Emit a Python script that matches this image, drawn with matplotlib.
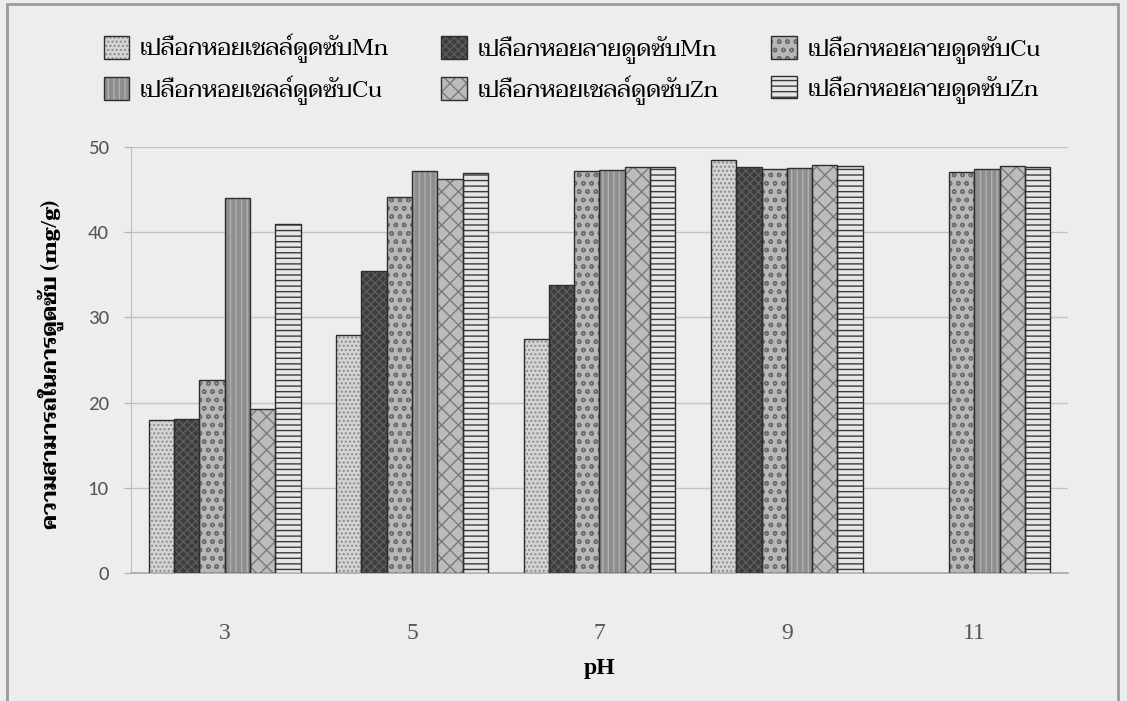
import numpy as np
import matplotlib
matplotlib.use("Agg")
import matplotlib.pyplot as plt
from matplotlib.patches import Rectangle

# data (adsorption capacity, mg/g)
ph_labels = ["3", "5", "7", "9", "11"]
mn_shell = [17.9, 27.9, 27.5, 48.5, np.nan]
mn_lai = [18.1, 35.5, 33.8, 47.6, np.nan]
cu_lai = [22.6, 44.1, 47.2, 47.4, 47.1]
cu_shell = [44.0, 47.2, 47.3, 47.5, 47.4]
zn_shell = [19.3, 46.2, 47.6, 47.9, 47.8]
zn_lai = [41.0, 46.9, 47.6, 47.8, 47.7]

series_names = [
    "เปลือกหอยเชลล์ดูดซับMn",
    "เปลือกหอยลายดูดซับMn",
    "เปลือกหอยลายดูดซับCu",
    "เปลือกหอยเชลล์ดูดซับCu",
    "เปลือกหอยเชลล์ดูดซับZn",
    "เปลือกหอยลายดูดซับZn",
]
series_vals = [mn_shell, mn_lai, cu_lai, cu_shell, zn_shell, zn_lai]

# (face colour, hatch, hatch colour) - rough stand-ins for the Excel pattern fills
styles = [
    ("#d4d4d4", "....", "#8a8a8a"),
    ("#3c3c3c", "xxxx", "#5c5c5c"),
    ("#b8b8b8", "oo", "#6e6e6e"),
    ("#8e8e8e", "|||", "#b0b0b0"),
    ("#bcbcbc", "xx", "#7a7a7a"),
    ("#e6e6e6", "---", "#3a3a3a"),
]

thai = ["Taviraj", "Noto Serif Thai", "Liberation Serif", "DejaVu Sans"]
serif = ["Liberation Serif", "DejaVu Serif"]
sans = ["Carlito", "Open Sans", "DejaVu Sans"]

bg = "#ededed"
plt.rcParams["hatch.linewidth"] = 1.0

fig = plt.figure(figsize=(11.27, 7.01), dpi=100, facecolor=bg)
ax = fig.add_axes([0.1162, 0.1826, 0.8314, 0.6077], facecolor=bg)

x = np.arange(len(ph_labels))
w = 0.135
handles = []
for i, (vals, (fc, hatch, hc)) in enumerate(zip(series_vals, styles)):
    pos = x + (i - 2.5) * w
    fill = ax.bar(pos, vals, w, color=fc, edgecolor=hc, hatch=hatch, linewidth=0, zorder=3)
    edge = ax.bar(pos, vals, w, fill=False, edgecolor="#2e2e2e", linewidth=1.0, zorder=4)
    handles.append((fill[0], edge[0]))

ax.set_xlim(-0.5, len(ph_labels) - 0.5)
ax.set_ylim(0, 50)
ax.set_yticks(np.arange(0, 51, 10))
ax.set_xticks(x)
ax.set_xticklabels(ph_labels, family=serif, fontsize=17, color="#555555")
for lab in ax.get_yticklabels():
    lab.set_family(sans)
    lab.set_fontsize(15)
    lab.set_color("#555555")

ax.grid(axis="y", color="#c4c4c4", linewidth=1.0, zorder=0)
ax.tick_params(axis="x", length=0, pad=36)
ax.tick_params(axis="y", length=5, color="#b0b0b0", pad=11)
for side in ["top", "right"]:
    ax.spines[side].set_visible(False)
ax.spines["left"].set_color("#bdbdbd")
ax.spines["bottom"].set_color("#a8a8a8")
ax.spines["bottom"].set_linewidth(1.2)

fig.text(0.532, 0.047, "pH", ha="center", va="center", family=serif, fontsize=17, fontweight="bold")
fig.text(0.045, 0.48, "ความสามารถในการดูดซับ (mg/g)", rotation=90, ha="center", va="center",
         family=thai, fontsize=15.5, fontweight="bold")

# legend is filled row by row in the original
order = [0, 3, 1, 4, 2, 5]
fig.legend([handles[k] for k in order], [series_names[k] for k in order],
           loc="upper left", bbox_to_anchor=(0.073, 0.982), ncol=3, frameon=False,
           prop={"family": thai, "size": 17}, handlelength=1.1, handleheight=1.1,
           handletextpad=0.45, columnspacing=2.2, labelspacing=0.5)

# outer frame of the scanned chart
fig.patches.append(Rectangle((7 / 1127, -0.02), 1111 / 1127, 1.02 - 4 / 701, transform=fig.transFigure,
                             fill=False, edgecolor="#9a9a9a", linewidth=2))

fig.savefig("out.png", facecolor=bg)
